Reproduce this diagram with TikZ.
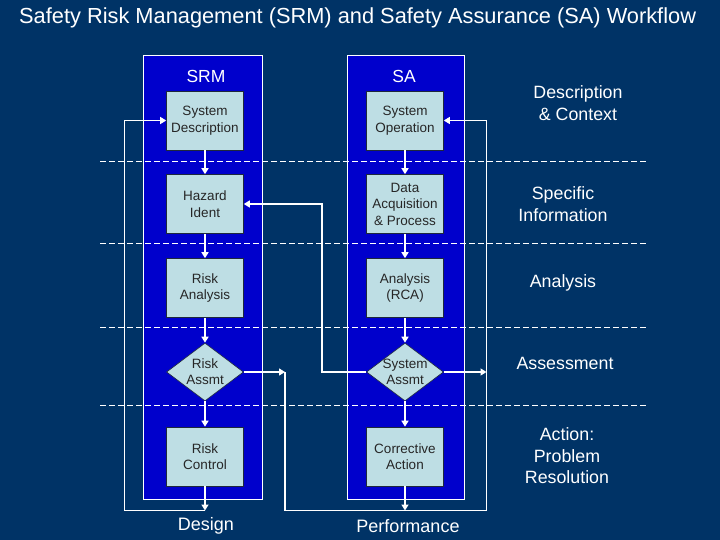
\documentclass[tikz,border=0pt]{standalone}
\usepackage{fontspec}
\setmainfont{Liberation Sans}
\usetikzlibrary{shapes.geometric,arrows.meta}
\definecolor{bg}{RGB}{0,51,102}
\definecolor{colblue}{RGB}{0,0,204}
\definecolor{boxfill}{RGB}{190,222,228}
\definecolor{boxline}{RGB}{30,40,60}
\begin{document}
\begin{tikzpicture}[x=1pt,y=-1pt,
  box/.style={draw=boxline, line width=0.6pt, fill=boxfill, minimum width=77pt, minimum height=59pt, inner sep=0pt, align=center, font=\fontsize{13.5}{16.5}\selectfont, text=black!85},
  dia/.style={diamond, draw=boxline, line width=0.6pt, fill=boxfill, minimum width=77pt, minimum height=58pt, inner sep=0pt},
  dtxt/.style={align=center, font=\fontsize{13.5}{16}\selectfont, text=black!85, inner sep=0pt},
  colrect/.style={draw=white, line width=0.8pt, fill=colblue},
  flow/.style={white, line width=1.6pt, -{Triangle[width=7pt,length=6pt]}},
  wire/.style={white, line width=1.3pt},
  wirearrow/.style={white, line width=1.3pt, -{Triangle[width=7pt,length=6pt]}},
  sepline/.style={white, line width=0.8pt, dash pattern=on 6pt off 3pt},
  lab/.style={text=white, align=center, font=\fontsize{17.8}{21.5}\selectfont, inner sep=0pt},
  head/.style={text=white, font=\fontsize{17.5}{20}\selectfont, inner sep=0pt},
  foot/.style={text=white, font=\fontsize{18}{21}\selectfont, inner sep=0pt}
]
\useasboundingbox (0,0) rectangle (720,540);
\fill[bg] (0,0) rectangle (720,540);

% title
\node[text=white, anchor=west, font=\fontsize{21.8}{24}\selectfont, inner sep=0pt] (title) at (19,18) {Safety Risk Management (SRM) and Safety Assurance (SA) Workflow};

% columns
\filldraw[colrect] (143,55) rectangle (262,499);
\filldraw[colrect] (347,55) rectangle (464,499);

% separators
\foreach \yy in {161,243,327,405} {
  \draw[sepline] (100,\yy) -- (646,\yy);
}

% headers
\node[head] (hsrm) at (206,76) {SRM};
\node[head] (hsa) at (404,76) {SA};

% SRM boxes
\node[box] (sd) at (205,120.5) {System\\Description};
\node[box] (hi) at (205,204) {Hazard\\Ident};
\node[box] (ra) at (205,288) {Risk\\Analysis};
\node[dia, label={[dtxt]center:Risk\\Assmt}] (rs) at (205,372) {};
\node[box] (rc) at (205,456.5) {Risk\\Control};

% SA boxes
\node[box] (so) at (405,120.5) {System\\Operation};
\node[box] (da) at (405,204) {Data\\Acquisition\\\& Process};
\node[box] (an) at (405,288) {Analysis\\(RCA)};
\node[dia, label={[dtxt]center:System\\Assmt}] (ss) at (405,372) {};
\node[box] (ca) at (405,456.5) {Corrective\\Action};

% footers
\node[foot] (design) at (206,526) {Design};
\node[foot] (perf) at (408,526) {Performance};

% right labels
\node[lab] (l1) at (578,103) {Description\\\& Context};
\node[lab] (l2) at (563,204) {Specific\\Information};
\node[lab] (l3) at (563,283) {Analysis};
\node[lab] (l4) at (565,363) {Assessment};
\node[lab] (l5) at (567,456) {Action:\\Problem\\Resolution};

% coordinates
\coordinate (dl) at (205,510.5);
\coordinate (lb) at (124.5,510.5);
\coordinate (dr) at (405,510.5);
\coordinate (rl) at (285,510.5);
\coordinate (rr) at (486.5,510.5);
\coordinate (rj) at (285,372);
\coordinate (sj) at (486.5,372);
\coordinate (sl) at (322,372);

% vertical flows
\draw[flow] (sd) -- (hi);
\draw[flow] (hi) -- (ra);
\draw[flow] (ra) -- (rs);
\draw[flow] (rs) -- (rc);
\draw[flow] (so) -- (da);
\draw[flow] (da) -- (an);
\draw[flow] (an) -- (ss);
\draw[flow] (ss) -- (ca);

% loops
\draw[flow] (rc.south) -- (dl);
\draw[wirearrow] (dl) -- (lb) |- (sd.west);
\draw[flow] (ca.south) -- (dr);
\draw[wirearrow] (rl) -- (rr) |- (so.east);
\draw[wire] (rj) -- (rl);
\draw[wirearrow] (rs.east) -- (rj);
\draw[wirearrow] (ss.east) -- (sj);
\draw[wirearrow] (ss.west) -- (sl) |- (hi.east);
\end{tikzpicture}
\end{document}
